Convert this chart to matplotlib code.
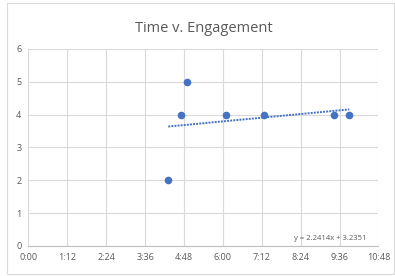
import matplotlib
matplotlib.use("Agg")
import matplotlib.pyplot as plt
import numpy as np
from matplotlib.ticker import FuncFormatter, MultipleLocator
from matplotlib.patches import Rectangle

plt.rcParams["font.family"] = ["Open Sans", "DejaVu Sans"]

# data: time of day (h:mm) vs engagement
times = ["4:19", "4:43", "4:54", "6:05", "7:16", "9:26", "9:54"]
engagement = [2, 4, 5, 4, 4, 4, 4]
slope, intercept = 2.2414, 3.2351

BLUE = "#4472C4"
GRID = "#D9D9D9"
TXT = "#595959"


def to_day(s):
    h, m = s.split(":")
    return (int(h) * 60 + int(m)) / 1440.0


def fmt_time(v, pos):
    mins = int(round(v * 1440))
    return f"{mins // 60}:{mins % 60:02d}"


x = np.array([to_day(t) for t in times])
y = np.array(engagement)

fig = plt.figure(figsize=(3.95, 2.76), dpi=100)
fig.patches.append(Rectangle((0.018, 0.008), 0.98, 0.98, transform=fig.transFigure,
                             fill=False, edgecolor="#D9D9D9", linewidth=0.8))
ax = fig.add_axes([0.0717, 0.1087, 0.8863, 0.7138])

ax.scatter(x, y, s=20, color=BLUE, zorder=3)
xl = np.array([x.min(), x.max()])
ax.plot(xl, slope * xl + intercept, color=BLUE, lw=1.4, ls=(0, (1, 0.6)), zorder=2)

ax.set_xlim(0, 0.45)
ax.set_ylim(0, 6)
ax.xaxis.set_major_locator(MultipleLocator(0.05))
ax.xaxis.set_major_formatter(FuncFormatter(fmt_time))
ax.yaxis.set_major_locator(MultipleLocator(1))
ax.grid(True, color=GRID, lw=0.8)
ax.set_axisbelow(True)
for s in ["top", "right", "left"]:
    ax.spines[s].set_visible(False)
ax.spines["bottom"].set_color("#BFBFBF")
ax.tick_params(length=0, labelsize=6.5, labelcolor=TXT, pad=5)

ax.set_title("Time v. Engagement", fontsize=10.5, color=TXT, pad=12)
ax.text(0.435, 0.22, f"y = {slope}x + {intercept}", fontsize=5.5,
        color=TXT, ha="right", va="center")

fig.savefig("out.png", dpi=100, facecolor="white")
